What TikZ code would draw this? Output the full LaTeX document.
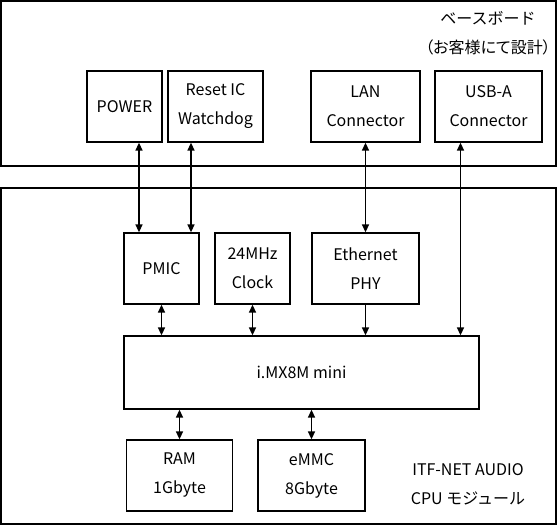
\documentclass[tikz,border=0pt]{standalone}
\usepackage{fontspec}
\setmainfont{Noto Sans CJK JP}
\usetikzlibrary{arrows.meta}
\tikzset{
  blk/.style   ={draw, line width=1.3pt, align=center, inner sep=0pt,
                 font=\fontsize{16}{29}\selectfont},
  board/.style ={draw, line width=2pt, inner sep=0pt},
  lbl/.style   ={align=center, inner sep=0pt, font=\fontsize{16}{29}\selectfont},
  fl/.style    ={-{Triangle[length=8pt,width=7pt]}, line width=1.5pt},
  bi/.style    ={{Triangle[length=8pt,width=7pt]}-{Triangle[length=8pt,width=7pt]},
                 line width=1.5pt},
}

\begin{document}
\begin{tikzpicture}[x=1pt,y=-1pt]
  \useasboundingbox (0,0) rectangle (558,525);

  % base board (customer side)
  \node[board, minimum width=555pt, minimum height=165pt] (base) at (278.5,83.5) {};
  \node[lbl] (basettl) at (488,18) {ベースボード};
  \node[lbl, anchor=east] (basesub) at (551,47)
        {\addfontfeature{CharacterWidth=AlternateProportional}（お客様にて設計）};

  \node[blk, minimum width=75pt,  minimum height=71pt] (power) at (124.5,106.5) {POWER};
  \node[blk, minimum width=95pt,  minimum height=71pt] (reset) at (215.5,106.5) {Reset IC\\Watchdog};
  \node[blk, minimum width=109pt, minimum height=71pt] (lan)   at (365.5,106.5) {LAN\\Connector};
  \node[blk, minimum width=107pt, minimum height=71pt] (usb)   at (488.5,106.5) {USB-A\\Connector};

  % CPU module
  \node[board, minimum width=555pt, minimum height=336pt] (cpu) at (278.5,355.5) {};

  \node[blk, minimum width=75pt,  minimum height=71pt] (pmic)  at (161.5,268.5) {PMIC};
  \node[blk, minimum width=75pt,  minimum height=71pt] (clk)   at (252.5,268.5) {24MHz\\Clock};
  \node[blk, minimum width=107pt, minimum height=71pt] (phy)   at (365.5,268.5) {Ethernet\\PHY};
  \node[blk, minimum width=355pt, minimum height=73pt] (soc)   at (301.5,372.5) {i.MX8M mini};
  \node[blk, minimum width=106pt, minimum height=71pt] (ram)   at (179.5,475.5) {RAM\\1Gbyte};
  \node[blk, minimum width=107pt, minimum height=71pt] (emmc)  at (311.5,475.5) {eMMC\\8Gbyte};

  \node[lbl] (cputtl) at (468,484) {ITF-NET AUDIO\\CPU モジュール};

  % arrows
  \draw[bi] ([xshift=-22.5pt]pmic.north |- power.south) -- ([xshift=-22.5pt]pmic.north);
  \draw[bi] ([xshift=29.5pt]pmic.north |- reset.south) -- ([xshift=29.5pt]pmic.north);
  \draw[bi] (lan.south) -- (phy.north);
  \draw[bi] ([xshift=-28pt]usb.south) -- ([xshift=-28pt]usb.south |- soc.north);
  \draw[bi] (pmic) -- (pmic |- soc.north);
  \draw[bi] (clk) -- (clk |- soc.north);
  \draw[fl] (phy) -- (phy |- soc.north);
  \draw[bi] (ram |- soc.south) -- (ram);
  \draw[bi] (emmc |- soc.south) -- (emmc);
\end{tikzpicture}
\end{document}
